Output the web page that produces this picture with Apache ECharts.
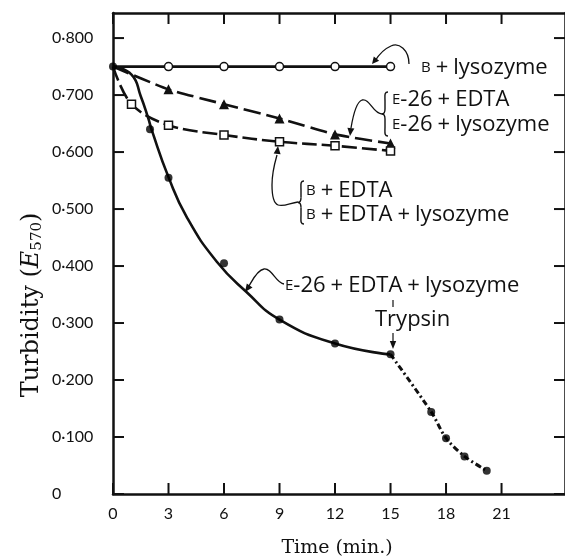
<!DOCTYPE html>
<html><head><meta charset="utf-8">
<script src="https://cdn.jsdelivr.net/npm/echarts@6/dist/echarts.min.js"></script>
<style>html,body{margin:0;padding:0;background:#fff}#c{width:565px;height:560px}</style>
</head><body><div id="c"></div>
<script>
// ---- data ----
const xTicks = [0, 3, 6, 9, 12, 15, 18, 21];
const yTicks = [0, 0.1, 0.2, 0.3, 0.4, 0.5, 0.6, 0.7, 0.8];

const bLysoT = [0, 3, 6, 9, 12, 15];
const bLysoV = [0.750, 0.750, 0.750, 0.750, 0.750, 0.750];

const e26EdtaT = [0, 3, 6, 9, 12, 15];
const e26EdtaV = [0.750, 0.710, 0.684, 0.659, 0.631, 0.615];

const bEdtaT = [0, 1, 3, 6, 9, 12, 15];
const bEdtaV = [0.750, 0.684, 0.647, 0.630, 0.618, 0.611, 0.602];

const lysPtsT = [0, 2, 3, 6, 9, 12, 15];
const lysPtsV = [0.750, 0.640, 0.555, 0.405, 0.306, 0.264, 0.245];

const lysCurveT = [0, 1, 1.5, 1.9, 2.1, 3, 4, 5.6, 7.2, 9, 12, 15];
const lysCurveV = [0.750, 0.736, 0.698, 0.660, 0.638, 0.556, 0.485, 0.408, 0.355, 0.306, 0.264, 0.245];

const trypT = [15, 17.2, 18, 19, 20.2];
const trypV = [0.245, 0.144, 0.098, 0.066, 0.041];

// ---- chart ----
const X_MAX = 24.43, Y_MAX = 0.844;
const SANS = 'Open Sans';
const SERIF = 'DejaVu Serif';
const zip = (t, v, hideFirst) => t.map((x, i) => (hideFirst && i === 0) ? {value: [x, v[i]], symbol: 'none'} : [x, v[i]]);
const fmtY = v => v === 0 ? '0' : '0·' + String(Math.round(v * 1000)).padStart(3, '0');

const axisLine = {show: true, onZero: false, lineStyle: {color: '#111', width: 2.5}};
const TICK = 11;

const chart = echarts.init(document.getElementById('c'), null, {renderer: 'canvas'});

function arrowHead(tx, ty, fx, fy, len, half) {
  const a = Math.atan2(ty - fy, tx - fx);
  const bx = tx - len * Math.cos(a), by = ty - len * Math.sin(a);
  const px = -Math.sin(a) * half, py = Math.cos(a) * half;
  return {type: 'polygon', shape: {points: [[tx, ty], [bx + px, by + py], [bx - px, by - py]]}, style: {fill: '#111'}, silent: true};
}
// tiny path parser (M, C, L) -> group of bezierCurve / line elements
function curve(d, w) {
  const tok = d.replace(/([MCL])/g, ' $1 ').replace(/,/g, ' ').trim().split(/\s+/);
  const children = [];
  let i = 0, cx = 0, cy = 0, cmd = null;
  const style = {fill: null, stroke: '#111', lineWidth: w || 1.3};
  while (i < tok.length) {
    if (/[MCL]/.test(tok[i])) { cmd = tok[i]; i++; continue; }
    const n = () => parseFloat(tok[i++]);
    if (cmd === 'M') { cx = n(); cy = n(); }
    else if (cmd === 'L') { const x = n(), y = n(); children.push({type: 'line', shape: {x1: cx, y1: cy, x2: x, y2: y}, style: style, silent: true}); cx = x; cy = y; }
    else if (cmd === 'C') {
      const a = n(), b = n(), c = n(), e = n(), x = n(), y = n();
      children.push({type: 'bezierCurve', shape: {x1: cx, y1: cy, cpx1: a, cpy1: b, cpx2: c, cpy2: e, x2: x, y2: y}, style: style, silent: true});
      cx = x; cy = y;
    }
  }
  return {type: 'group', children: children, silent: true};
}
const rich = {
  sc: {fontSize: 15, fontFamily: SANS, fill: '#111'},
  n: {fontSize: 22, fontFamily: SANS, fill: '#111'},
  p: {fontSize: 22, fontFamily: SANS, fill: '#111', padding: [0, 5, 0, 5]}
};
function label(x, y, text) {
  return {type: 'text', x: x, y: y, style: {text: text, rich: rich, verticalAlign: 'middle', align: 'left', fill: '#111', fontFamily: SANS, fontSize: 22}, silent: true};
}
function brace(x, y1, y2) {
  const m = (y1 + y2) / 2;
  return curve(`M${x + 5},${y1} C${x + 1},${y1} ${x + 2},${y1 + 4} ${x + 2},${y1 + 9} L${x + 2},${m - 5} C${x + 2},${m - 2} ${x + 1},${m} ${x - 1},${m} C${x + 1},${m} ${x + 2},${m + 2} ${x + 2},${m + 5} L${x + 2},${y2 - 9} C${x + 2},${y2 - 4} ${x + 1},${y2} ${x + 5},${y2}`, 1.4);
}

const option = {
  animation: false,
  backgroundColor: '#fff',
  grid: {left: 113, top: 13, right: -4, bottom: 66, containLabel: false},
  xAxis: [
    {type: 'value', position: 'bottom', min: 0, max: X_MAX, axisLine: axisLine, axisTick: {show: false},
      splitLine: {show: false},
      axisLabel: {customValues: xTicks, color: '#111', fontSize: 16, fontFamily: 'Lato', margin: 12}},
    {type: 'value', position: 'top', min: 0, max: X_MAX, axisLine: axisLine, axisTick: {show: false},
      splitLine: {show: false}, axisLabel: {show: false}}
  ],
  yAxis: [
    {type: 'value', position: 'left', min: 0, max: Y_MAX, axisLine: axisLine, axisTick: {show: false},
      splitLine: {show: false},
      axisLabel: {customValues: yTicks, formatter: fmtY, color: '#111', fontSize: 16, fontFamily: 'Lato', align: 'left', margin: 61}},
    {type: 'value', position: 'right', min: 0, max: Y_MAX, axisLine: axisLine, axisTick: {show: false},
      splitLine: {show: false}, axisLabel: {show: false}}
  ],
  series: [
    {name: 'B+lysozyme', type: 'line', data: zip(bLysoT, bLysoV, true), z: 3,
      lineStyle: {color: '#111', width: 2.8}, symbol: 'circle', symbolSize: 8,
      itemStyle: {color: '#fff', borderColor: '#111', borderWidth: 1.5}},
    {name: 'E-26+EDTA', type: 'line', data: zip(e26EdtaT, e26EdtaV, true), z: 3, smooth: 0.2,
      lineStyle: {color: '#111', width: 2.6, type: [17, 6]}, symbol: 'triangle', symbolSize: 10,
      itemStyle: {color: '#111', borderColor: '#111', borderWidth: 0}},
    {name: 'B+EDTA', type: 'line', data: zip(bEdtaT, bEdtaV, true), z: 3, smooth: 0.35,
      lineStyle: {color: '#111', width: 2.6, type: [15, 5]}, symbol: 'rect', symbolSize: 8,
      itemStyle: {color: '#fff', borderColor: '#111', borderWidth: 1.5}},
    {name: 'E-26+EDTA+lysozyme (curve)', type: 'line', data: zip(lysCurveT, lysCurveV), z: 3, smooth: 0.5,
      lineStyle: {color: '#111', width: 2.6}, symbol: 'none'},
    {name: 'Trypsin', type: 'line', data: zip(trypT, trypV), z: 3, smooth: 0.3,
      lineStyle: {color: '#111', width: 3, type: [6, 3, 2, 3]}, symbol: 'none'},
    {name: 'E-26+EDTA+lysozyme', type: 'scatter', data: zip(lysPtsT, lysPtsV).concat(zip(trypT.slice(1), trypV.slice(1))), z: 5,
      symbol: 'circle', symbolSize: 8, itemStyle: {color: '#000'}}
  ]
};
chart.setOption(option);

// inward tick marks on all four sides, positioned through the chart's own axis scales
const tickEls = [];
const tickStyle = {stroke: '#111', lineWidth: 2};
xTicks.forEach(v => {
  const b = chart.convertToPixel({gridIndex: 0}, [v, 0]);
  const t = chart.convertToPixel({gridIndex: 0}, [v, Y_MAX]);
  tickEls.push({type: 'line', z: 50, shape: {x1: b[0], y1: b[1], x2: b[0], y2: b[1] - TICK}, style: tickStyle, silent: true});
  tickEls.push({type: 'line', z: 50, shape: {x1: t[0], y1: t[1], x2: t[0], y2: t[1] + TICK}, style: tickStyle, silent: true});
});
yTicks.forEach(v => {
  const l = chart.convertToPixel({gridIndex: 0}, [0, v]);
  const r = chart.convertToPixel({gridIndex: 0}, [X_MAX, v]);
  tickEls.push({type: 'line', z: 50, shape: {x1: l[0], y1: l[1], x2: l[0] + TICK, y2: l[1]}, style: tickStyle, silent: true});
  tickEls.push({type: 'line', z: 50, shape: {x1: r[0], y1: r[1], x2: r[0] - TICK, y2: r[1]}, style: tickStyle, silent: true});
});

const annotations = [
  // B + lysozyme
  label(421, 68, '{sc|B}{p|+}{n|lysozyme}'),
  curve('M409,64 C409,50 399,42 391,46 C384,49 378,56 375,61'),
  arrowHead(372, 64, 377, 58, 7, 3.5),
  // E-26 + EDTA / E-26 + lysozyme
  brace(383, 92, 136),
  label(392, 100, '{sc|E}{n|-26}{p|+}{n|EDTA}'),
  label(392, 125, '{sc|E}{n|-26}{p|+}{n|lysozyme}'),
  curve('M382,114 C373,114 370,98 362,100 C356,102 353,116 351,128'),
  arrowHead(350, 136, 351, 127, 8, 3.5),
  // B + EDTA / B + EDTA + lysozyme
  brace(299, 181, 224),
  label(306, 191, '{sc|B}{p|+}{n|EDTA}'),
  label(306, 215, '{sc|B}{p|+}{n|EDTA}{p|+}{n|lysozyme}'),
  curve('M298,202 C290,203 284,207 278,205 C273,203 272,195 272,185 C272,172 275,162 277,155'),
  arrowHead(278, 146, 277, 155, 8, 3.5),
  // E-26 + EDTA + lysozyme
  label(285, 286, '{sc|E}{n|-26}{p|+}{n|EDTA}{p|+}{n|lysozyme}'),
  curve('M284,284 C276,283 272,268 264,269 C257,270 252,281 249,286'),
  arrowHead(245, 292, 250, 285, 8, 3.5),
  // Trypsin
  label(375, 320, '{n|Trypsin}'),
  {type: 'line', shape: {x1: 393, y1: 300, x2: 393, y2: 307}, style: {stroke: '#111', lineWidth: 1.2}, silent: true},
  {type: 'line', shape: {x1: 393, y1: 333, x2: 393, y2: 342}, style: {stroke: '#111', lineWidth: 1.2}, silent: true},
  arrowHead(393, 349, 393, 340, 8, 3.2),
  // axis titles
  {type: 'text', x: 337, y: 548, style: {text: 'Time (min.)', fontFamily: SERIF, fontSize: 19, fill: '#111', align: 'center', verticalAlign: 'middle'}, silent: true},
  {type: 'text', x: 32, y: 305, rotation: Math.PI / 2,
    style: {text: '{a|Turbidity (}{i|E}{s|570}{a|)}', align: 'center', verticalAlign: 'middle', fill: '#111',
      rich: {a: {fontFamily: SERIF, fontSize: 24, fill: '#111'},
             i: {fontFamily: SERIF, fontSize: 24, fontStyle: 'italic', fill: '#111'},
             s: {fontFamily: SERIF, fontSize: 15, fill: '#111', padding: [10, 0, 0, 0]}}}, silent: true}
];

chart.setOption({graphic: tickEls.concat(annotations)});
</script>
</body></html>
